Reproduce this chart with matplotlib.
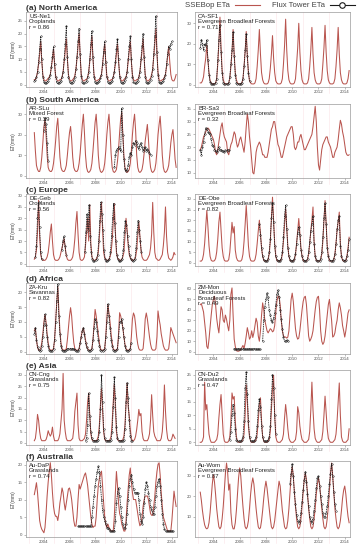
import numpy as np
import matplotlib
matplotlib.use('Agg')
import matplotlib.pyplot as plt
from matplotlib.lines import Line2D

# monthly values; each series starts at the given decimal year
us_ne1_start = 2003.25
us_ne1_red = [2, 2, 3, 5, 8, 12, 17, 9, 4, 2, 1.5, 1.5,
              2, 2.5, 3, 4, 7, 10, 14, 8, 3.5, 2, 1.5, 1.5,
              2, 2, 3, 5, 9, 13, 18, 10, 4, 2, 1.5, 1.5,
              2, 2.5, 3.5, 6, 10, 15, 20, 11, 4, 2, 1.5, 1.5,
              2, 2, 3, 5, 9, 14, 19, 10, 4, 2, 1.5, 1.5,
              2, 2, 3, 4, 8, 12, 16, 9, 3.5, 2, 1.5, 1.5,
              2, 2, 3, 5, 8, 12, 16, 9, 4, 2, 1.5, 1.5,
              2, 2.5, 3, 5, 9, 13, 17, 9, 4, 2, 1.5, 1.5,
              2, 2, 3, 5, 9, 13, 18, 10, 4, 2, 1.5, 1.5,
              2, 2.5, 4, 6, 11, 16, 22, 12, 5, 2, 1.5, 1.5,
              2, 2, 3, 4, 7, 11, 15, 9, 4, 2, 1.5, 1.5,
              2.5, 4]
us_ne1_flux = [(2003.25, [1.5, 2, 3, 5, 9, 14, 19, 10, 3, 1, 0.5, 0.5,
                          1, 1.5, 2.5, 4, 7, 11, 15, 8, 3, 1, 0.5, 0.5,
                          1, 1.5, 3, 5, 10, 16, 23, 11, 3, 1, 0.5, 0.5,
                          1, 2, 3, 6, 11, 17, 22, 12, 3.5, 1, 0.5, 0.5,
                          1, 1.5, 3, 5, 10, 16, 21, 11, 3, 1, 0.5, 0.5,
                          1, 1.5, 2.5, 4, 8, 13, 17, 9, 3, 1, 0.5, 0.5,
                          1, 1.5, 3, 5, 9, 14, 18, 10, 3, 1, 0.5, 0.5,
                          1, 2, 3, 5, 10, 15, 19, 10, 3, 1, 0.5, 0.5,
                          1, 1.5, 3, 5, 10, 15, 20, 11, 3, 1, 0.5, 0.5,
                          1, 2, 3.5, 6, 12, 19, 27, 13, 4, 1, 0.5, 0.5,
                          1, 1.5, 2.5, 4, 8, 12, 15, 14, 16, 17])]

ca_sf1_start = 2003.0
ca_sf1_red = [1, 1, 2, 4, 9, 13, 19.5, 12, 6, 2, 1, 0.5,
              0.5, 0.5, 1, 3, 10, 20, 33, 18, 7, 2.5, 1, 0.5,
              0.5, 0.5, 1, 3, 9, 16, 27, 15, 6, 2.5, 1, 0.5,
              0.5, 0.5, 1, 3, 9, 16, 26, 14, 6, 2, 1, 0.5,
              0.5, 0.5, 1, 3, 9, 17, 27, 15, 6, 2.5, 1, 0.5,
              0.5, 0.5, 1, 3, 8, 15, 24, 13, 6, 2, 1, 0.5,
              0.5, 0.5, 1, 3, 10, 19, 32, 17, 7, 2.5, 1, 0.5,
              0.5, 0.5, 1, 3, 10, 18, 30, 16, 7, 2.5, 1, 0.5,
              0.5, 0.5, 1, 3, 9, 17, 28, 15, 6, 2.5, 1, 0.5,
              0.5, 0.5, 1, 3, 10, 18, 29, 16, 7, 2.5, 1, 0.5,
              0.5, 0.5, 1, 3, 9, 17, 28, 15, 6, 2.5, 1, 0.5,
              0.5, 0.5, 1, 3, 7]
ca_sf1_flux = [(2003.0, [18, 22, 20, 17, 20, 19, 22, 12, 5, 1.5, 0.5, 0.5,
                         0.5, 0.5, 1, 3, 12, 22, 29, 16, 6, 1, 0.5, 0.5,
                         0.5, 0.5, 1, 4, 10, 17, 26, 14, 5, 1, 0.5, 0.5,
                         0.5, 0.5, 1, 3, 9, 17, 25, 14, 6, 2])]

ar_slu_start = 2003.25
ar_slu_red = [21, 12, 5, 3, 2, 2, 4, 9, 16,
              24, 27.5, 20, 10, 4, 2.5, 2, 2, 3, 6, 11, 17,
              24, 28, 19, 9, 4, 2.5, 2, 2, 3, 5, 10, 16,
              21, 24, 18, 9, 4, 2.5, 2, 2, 3, 6, 11, 18,
              25, 30, 21, 10, 4, 2, 1.5, 2, 3, 6, 12, 19,
              26, 30, 22, 10, 4, 2, 1.5, 2, 3, 6, 12, 20,
              26, 30, 22, 11, 4, 2, 1.5, 2, 3, 7, 13, 21,
              28, 31, 21, 10, 4, 2, 1.5, 2, 3, 6, 12, 20,
              26, 30, 22, 10, 4, 2, 1.5, 2, 3, 6, 11, 17,
              21, 25, 18, 9, 4, 2, 1.5, 2, 3, 6, 12, 20,
              25, 29, 21, 10, 4, 2, 1.5, 2, 3, 5, 10, 16,
              20, 22.5, 16, 8, 4]
ar_slu_flux = [(2004.0, [22, 28, 25, 16, 7]),
               (2009.5, [4, 10, 12, 13, 14, 13, 12, 33, 20, 8, 3, 2,
                         2.5, 5, 9, 11, 10, 14, 16, 15, 17, 16, 14, 13,
                         15, 16, 14, 12, 13, 14, 12, 13, 12, 11, 10])]

br_sa3_start = 2003.0
br_sa3_red = [19, 20, 22, 24, 25, 26, 27, 27.5, 27, 26, 25, 24,
              23, 21, 18, 17, 19, 22, 25, 28, 29.5, 26, 24, 23,
              22, 18, 17, 19, 21, 22, 24, 26, 25, 22, 20, 21,
              23, 24, 22, 20, 18, 22, 28, 33, 30, 24, 20, 15,
              10, 9.5, 13, 18, 20, 21, 22, 21, 19, 17, 17, 16,
              16, 16, 18, 21, 24, 27, 28, 30, 30, 27, 24, 21,
              20, 18, 16, 16, 18, 20, 22, 24, 25, 26, 27, 28,
              28, 25, 20, 19, 20, 22, 22, 24, 25, 23, 21, 19,
              19, 20, 21, 22, 23, 24, 25, 28, 32, 36, 30, 20,
              13, 11, 15, 19, 21, 22, 23, 24, 24, 22, 21, 20,
              18, 16, 16, 18, 19, 20, 23, 27, 30.5, 29, 26, 24,
              21, 18, 17, 16.7, 17]
br_sa3_flux = [(2003.0, [19, 17, 20, 22, 25, 27.5, 27, 26, 25.5, 25, 23, 21,
                         20.5, 19, 18.5, 18, 19, 20, 19, 19, 18.5, 18.5, 18, 18.7,
                         18.5, 19, 19])]

de_geb_start = 2003.25
de_geb_red = [2, 3, 6, 14, 28, 12, 4, 2, 1.5,
              1.5, 1.5, 2, 3, 5, 9, 14, 17.5, 10, 4, 2, 1.5,
              1.5, 1.5, 2, 3, 5, 7, 9, 11, 7, 3.5, 2, 1.5,
              1.5, 1.5, 2, 3, 6, 11, 18, 23, 13, 5, 2, 1.5,
              1.5, 2, 3, 8, 14, 20, 10, 26, 9, 3, 2, 1.5,
              1.5, 2, 3, 5, 12, 20, 27, 15, 5, 2.5, 2, 1.5,
              1.5, 2, 3, 5, 10, 18, 26.5, 14, 5, 2.5, 2, 1.5,
              1.5, 2, 3, 5, 12, 20, 15, 8, 4, 2.5, 2, 1.5,
              1.5, 2, 3, 6, 12, 18.5, 12, 6, 3, 2, 1.5, 1.5,
              1.5, 2, 3, 4, 7, 13, 27, 14, 5, 2.5, 2, 1.5,
              1.5, 2, 3, 4, 8, 14, 25, 12, 5, 2.5, 2, 1.5,
              2, 3, 5, 4]
de_geb_flux = [(2003.33, [3, 8, 20, 27, 16, 5, 2]),
               (2005.4, [6, 10, 12, 8, 4]),
               (2007.2, [5, 14, 22, 15, 26, 12, 5, 2, 1, 1, 1.5,
                         2, 4, 10, 19, 27, 22, 15, 6, 2, 1, 1, 1.5,
                         2, 5, 12, 20, 26.5, 18, 10, 4, 2, 1, 1, 1.5,
                         2, 6, 14, 19, 17, 12, 8, 4, 2, 1.5, 1, 1.5,
                         2, 7, 14, 19, 15, 10, 5])]

de_obe_start = 2003.0
de_obe_red = [0.8, 0.8, 1.5, 4, 9, 17, 24.6, 17, 8, 3, 1.2, 0.8,
              0.8, 1, 2, 5, 11, 19, 23.8, 15, 7, 3, 1.2, 0.8,
              0.8, 0.8, 1.5, 5, 12, 19, 14, 17, 6, 2.5, 1.2, 0.8,
              0.8, 0.8, 1.5, 4, 10, 18, 26.9, 18, 8, 3, 1.2, 0.8,
              0.8, 0.8, 1.5, 4, 9, 15, 20, 14, 7, 3, 1.2, 0.8,
              0.8, 0.8, 1.5, 4, 10, 20, 30.8, 20, 9, 3, 1.2, 0.8,
              0.8, 0.8, 1.5, 4, 10, 18, 25.4, 17, 8, 3, 1.2, 0.8,
              0.8, 0.8, 1.5, 4, 9, 15, 20.8, 14, 7, 3, 1.2, 0.8,
              0.8, 0.8, 1.5, 4, 9, 15, 20, 26.2, 10, 3, 1.2, 0.8,
              0.8, 0.8, 1.5, 4, 10, 20, 29.2, 19, 8, 3, 1.2, 0.8,
              0.8, 0.8, 1.5, 4, 9, 15, 19, 23.8, 9, 3, 1.2, 0.8,
              0.8, 1, 3, 7, 12]
de_obe_flux = [(2007.5, [18, 13, 7, 3, 1.5, 1,
                         1, 1, 2, 5, 11, 21, 28, 19, 8, 3, 1.5, 1,
                         1, 1, 2, 5, 12, 22, 27, 16, 7, 3, 1.5, 1,
                         1, 1, 2, 4, 9, 14, 17, 13, 6, 3, 1.5, 1,
                         1, 1, 2, 5, 10, 15, 18, 22, 9, 3, 1.5, 1,
                         1, 1, 2, 5, 12, 21, 28, 18, 7, 3, 1.5, 1,
                         1, 1, 2, 4, 9, 16, 20, 22, 8, 3, 1.5, 1,
                         1, 1.5, 3, 6, 11])]

za_kru_start = 2003.25
za_kru_red = [7, 8, 4, 1.5, 0.5, 0.5, 1, 3, 6,
              10, 12.5, 10, 6, 3, 1, 0.5, 0.5, 0.5, 1, 4, 10,
              16, 22, 14, 7, 3, 1, 0.5, 0.5, 0.5, 1, 4, 8,
              12, 14.8, 12, 7, 3, 1, 0.5, 0.5, 0.5, 1, 3, 5,
              7, 8, 6, 4, 2, 1, 0.5, 0.5, 0.5, 1, 4, 9,
              14.2, 12, 9, 6, 3, 1, 0.5, 0.5, 0.5, 1, 5, 11,
              15.9, 13, 10, 6, 3, 1, 0.5, 0.5, 0.5, 1, 6, 13.1,
              12, 10, 8, 5, 2.5, 1, 0.5, 0.5, 0.5, 1, 5, 11,
              13, 12, 9, 5, 2.5, 1, 0.5, 0.5, 0.5, 1, 5, 11,
              13, 11, 8, 5, 2.5, 1, 0.5, 0.5, 0.5, 1, 5, 13.7,
              11, 9, 6, 4, 2, 1, 0.5, 0.5, 0.5, 1, 4, 8.1,
              7, 6, 5, 4, 3]
za_kru_flux = [(2003.25, [6, 8, 4, 1.5, 0.5, 0.3, 0.5, 2, 5,
                          9, 12.5, 9, 5, 2, 0.5, 0.3, 0.3, 0.3, 1, 4, 10,
                          17, 22.6, 12, 6, 2, 0.5, 0.3, 0.3, 0.3, 0.5, 1, 1,
                          1, 1, 1, 1, 1, 0.5, 0.3, 0.3, 0.3, 1, 3, 5,
                          7, 8, 6, 3, 1.5, 0.5, 0.3, 0.3, 0.5, 1, 4, 8,
                          11, 10, 7, 4, 2, 0.5, 0.3, 0.3, 0.5, 1, 5, 10,
                          16, 12, 8, 4, 2, 0.5, 0.3, 0.3, 0.5, 1, 5, 10,
                          10, 11, 8, 5, 2, 0.5, 0.3, 0.3, 0.5, 1, 3])]

zm_mon_start = 2003.0
zm_mon_red = [45, 46, 42, 38, 28, 18, 5, 3, 12, 24, 35, 45,
              50, 53, 45, 32, 24, 18, 30, 43, 40, 30, 28, 35,
              31, 25, 20, 30, 55, 61, 35, 12, 5, 1, 0.5, 0.5,
              1, 2, 4, 6, 3, 8, 15, 23, 18, 12, 14, 20,
              13.6, 18, 25, 32, 28, 15, 10, 20, 35, 46.7, 40, 30,
              25, 20, 18, 20, 22, 21, 19, 20, 25, 38, 48, 53,
              53, 45, 30, 20, 15, 14, 14, 13, 14, 20, 35, 50,
              56, 48, 35, 22, 15, 12, 13, 20, 30, 40, 48, 52,
              53, 45, 30, 15, 10, 12, 15, 20, 30, 40, 48, 52,
              53, 40, 20, 10, 7, 9, 15, 25, 35, 45, 50, 40,
              30, 14, 15, 18, 25, 30, 40, 46.7, 42, 35, 25, 20,
              14, 20, 28, 37, 40]
zm_mon_flux = [(2005.55, [3, 2.5, 2.5, 2.5, 3, 2.5, 2.5, 2.5, 2.5, 3, 2.5, 2.5,
                          2.5, 2.5, 3, 2.5, 2.5, 2.5, 2.5, 3, 2.5, 2.5, 2.5, 2.5, 2.5]),
               (2007.75, [10, 30, 43, 50, 56, 52, 40, 35, 30, 28, 32, 37,
                          45, 55, 59, 52, 40, 31, 22, 14, 10, 10.4, 11, 10])]

cn_cng_start = 2003.25
cn_cng_red = [1, 2, 6, 12.6, 10, 5, 2, 1, 1,
              1, 1, 1.5, 3, 5.4, 4, 3, 4, 7, 3, 1, 1,
              1, 1, 2, 4, 9.6, 15, 30.7, 10, 5, 2, 1, 1,
              1, 1, 1.5, 2, 6, 14, 18, 22, 8, 2, 1, 1,
              1, 1.5, 2, 3.9, 10, 18, 22, 12, 4, 1.5, 1, 1,
              1, 1, 1.5, 3, 8, 17, 24, 14, 5, 1.5, 1, 1,
              1, 1, 1.5, 3, 9, 18, 26, 15, 5, 1.5, 1, 1,
              1, 1, 1.5, 3, 8, 17, 26.4, 16, 12, 6, 2, 1,
              1, 1.5, 3, 6, 10, 14.8, 12, 13, 5, 2, 1, 1,
              1, 1, 2, 4, 10, 21.3, 12, 5, 3, 2, 1, 1,
              1, 1, 2, 5, 12, 25.6, 14, 6, 2, 1, 1, 1,
              2, 3.9, 3, 2]
cn_cng_flux = [(2007.25, [1, 2, 8, 22, 12, 5, 2, 1, 1,
                          1, 1, 1, 1.5, 5, 15, 30, 18, 6, 2, 1, 1,
                          1, 1, 1, 1.5, 5, 16, 29, 20, 7, 2, 1, 1,
                          1, 1, 1, 1.5, 6, 18, 26.5, 20, 10, 3, 1, 1])]

cn_du2_start = 2003.0
cn_du2_red = [0, 0, 0.5, 2, 22.3, 12, 14, 8, 3, 1, 0, 0,
              0, 0, 0.5, 1, 3, 9, 14, 17.7, 10, 3, 0.5, 0,
              0, 0, 0.5, 2, 8, 18.3, 16, 17, 8, 2, 0.5, 0,
              0, 0, 0.5, 1, 3, 10, 21.3, 15, 6, 2, 0.5, 0,
              0, 0, 0.5, 1, 3, 8, 14, 16.5, 8, 2, 0.5, 0,
              0, 0, 0.5, 1, 4, 12, 20, 24.9, 10, 2, 0.5, 0,
              0, 0, 0.5, 1, 3, 9, 14, 10, 5, 1.5, 0.5, 0,
              0, 0, 0.5, 1, 4, 13.2, 11, 6, 3, 1, 0.5, 0,
              0, 0, 0.5, 1, 4, 12, 22.3, 12, 5, 1.5, 0.5, 0,
              0, 0, 0.5, 1, 4, 10, 17.1, 11, 5, 1.5, 0.5, 0,
              0, 0, 0.5, 1, 3, 8, 15, 22, 10, 2, 0.5, 0,
              0, 0, 0.5, 1, 5]
cn_du2_flux = [(2005.25, [1, 4, 10, 14, 11, 5, 1, 0.5, 0.5,
                          0.5, 0.5, 1, 2, 8, 20, 26, 18, 8, 2, 0.5, 0.5,
                          0.5, 0.5, 1, 2, 6, 12, 16, 13, 6, 2, 0.5, 0.5,
                          0.5, 0.5, 1, 2, 6, 16, 25, 20, 10, 3])]

au_dap_start = 2003.25
au_dap_red = [11.4, 13, 14.8, 12, 8, 4, 2.4, 1.5, 1,
              0.5, 2, 6, 11, 15, 18, 20.5, 17, 12, 8, 6, 5.2,
              5.2, 4, 6, 9, 11, 13.3, 12, 9, 7, 9, 11, 13,
              13.3, 12, 10, 7, 4, 2.4, 2.4, 5, 10, 14.3, 13, 14,
              15, 16, 17, 17.6, 16, 14, 11, 8, 5, 3, 2, 2.4,
              2.4, 5, 10, 14, 16, 17, 18.1, 14, 9, 5, 3, 2,
              3, 2, 1.5, 1, 1, 1, 5, 12, 18, 14, 9, 6,
              5, 3, 2, 1, 1, 4, 9, 13, 17, 19, 15, 12,
              10, 10, 10, 8, 6, 4, 2.5, 3, 5, 8, 10, 11,
              11, 11, 10, 8, 6, 5.5, 5.5, 8, 11, 15, 18, 20,
              20.5, 17, 12, 8, 5, 4, 3, 2, 1, 1, 1, 1,
              4, 8, 12.4, 10, 8]
au_dap_flux = [(2006.67, [2.4, 2.4, 2.4, 2.4, 2.4, 2.4, 2.4, 2.4, 2.4, 2.4, 2.4, 2.4, 2.4,
                          5, 8, 11, 14, 16, 18, 19.5, 18, 14, 10, 7, 5, 4, 3, 2,
                          2, 1.5, 1, 1, 1, 1, 1, 4, 9, 12, 13.3, 11, 8, 5, 3, 2, 2,
                          3, 6, 10, 14, 16, 17.1, 15, 13, 12, 12, 12, 12, 10, 6, 4, 3,
                          5, 9, 13, 15, 14, 12, 10, 8, 7, 6, 6, 8, 11, 14, 15,
                          16, 14, 10, 6, 3, 1.5, 1, 1, 1, 1, 1, 1, 1, 1])]

au_wom_start = 2003.0
au_wom_red = [22, 18, 13, 9, 6, 4.5, 4, 4.5, 7, 12, 19, 26,
              30.6, 27, 21, 14, 9, 5, 4, 5, 9, 15, 23, 31,
              36.3, 32, 23, 26, 12, 6, 4, 4, 7, 13, 21, 29,
              33.9, 30, 22, 15, 9, 5, 4, 5, 8, 14, 21, 26,
              29, 26, 20, 14, 9, 5, 4, 4.5, 8, 13, 19, 24,
              27.4, 24, 19, 14, 9, 5, 4, 5, 8, 13, 18, 23,
              27.4, 25, 19, 13, 9, 5, 4, 4.5, 8, 14, 22, 30,
              34.5, 30, 22, 15, 9, 5, 4, 5, 9, 15, 22, 28,
              31.5, 28, 21, 14, 9, 5, 4, 5, 9, 14, 21, 26,
              29, 26, 20, 14, 9, 5, 4, 5, 9, 15, 23, 31,
              36.3, 30, 22, 14, 9, 5, 4, 5, 8, 13, 19, 23,
              25, 21, 15, 10, 7]
au_wom_flux = [(2009.83, [26, 31, 36, 30, 22, 16, 11, 8, 7, 8, 12, 17,
                          23, 28, 32, 27, 21, 15, 10, 8, 7, 9, 13, 18,
                          24, 29, 30, 25, 20, 16, 12, 10, 10, 12, 15, 20,
                          26, 31, 36, 30, 22, 16, 13])]

region_titles = ['(a) North America', '(b) South America', '(c) Europe',
                 '(d) Africa', '(e) Asia', '(f) Australia']
site_labels = ['US-Ne1\nCroplands\nr = 0.86',
               'CA-SF1\nEvergreen Broadleaf Forests\nr = 0.71',
               'AR-SLu\nMixed Forest\nr = 0.39',
               'BR-Sa3\nEvergreen Broadleaf Forests\nr = 0.32',
               'DE-Geb\nCroplands\nr = 0.56',
               'DE-Obe\nEvergreen Broadleaf Forests\nr = 0.82',
               'ZA-Kru\nSavannas\nr = 0.82',
               'ZM-Mon\nDeciduous\nBroadleaf Forests\nr = 0.49',
               'CN-Cng\nGrasslands\nr = 0.75',
               'CN-Du2\nGrasslands\nr = 0.47',
               'Au-DaP\nGrasslands\nr = 0.74',
               'Au-Wom\nEvergreen Broadleaf Forests\nr = 0.87']
y_ticks = [[0, 5, 10, 15, 20, 25], [0, 10, 20, 30],
           [0, 10, 20, 30], [10, 15, 20, 25, 30, 35],
           [0, 5, 10, 15, 20, 25, 30], [0, 5, 10, 15, 20, 25, 30],
           [0, 5, 10, 15, 20], [0, 10, 20, 30, 40, 50, 60],
           [0, 5, 10, 15, 20, 25, 30], [0, 5, 10, 15, 20, 25],
           [0, 5, 10, 15, 20], [10, 20, 30]]
y_limits = [(-0.9, 28.5), (-1, 35.5), (-1.2, 35), (7.9, 36.9),
            (-1, 30.7), (-1.5, 32.3), (-0.8, 23.1), (-2.2, 65.7),
            (-0.9, 32.2), (-1, 26.8), (-0.7, 21), (0, 37.3)]
x_ticks = [2004, 2006, 2008, 2010, 2012, 2014]

panels = [(us_ne1_start, us_ne1_red, us_ne1_flux),
          (ca_sf1_start, ca_sf1_red, ca_sf1_flux),
          (ar_slu_start, ar_slu_red, ar_slu_flux),
          (br_sa3_start, br_sa3_red, br_sa3_flux),
          (de_geb_start, de_geb_red, de_geb_flux),
          (de_obe_start, de_obe_red, de_obe_flux),
          (za_kru_start, za_kru_red, za_kru_flux),
          (zm_mon_start, zm_mon_red, zm_mon_flux),
          (cn_cng_start, cn_cng_red, cn_cng_flux),
          (cn_du2_start, cn_du2_red, cn_du2_flux),
          (au_dap_start, au_dap_red, au_dap_flux),
          (au_wom_start, au_wom_red, au_wom_flux)]

plt.rcParams['font.family'] = ['Liberation Sans Narrow', 'Liberation Sans', 'DejaVu Sans']

RED = '#b9554f'
W, H = 361, 550
fig = plt.figure(figsize=(W / 100, H / 100), dpi=100)

col_left = [26, 195]
col_width = [151, 155]
row_top = [12, 104, 194, 283, 370, 461]
row_height = [75, 74, 72, 71, 75, 76]

for k, (start, red, flux) in enumerate(panels):
    row, col = divmod(k, 2)
    ax = fig.add_axes([col_left[col] / W, 1 - (row_top[row] + row_height[row]) / H,
                       col_width[col] / W, row_height[row] / H])
    # faint pink year guides
    for yr in range(2003, 2015, 2):
        ax.axvline(yr - 0.2, ymin=-0.08, ymax=1, color='#fbe3e7', lw=0.4, clip_on=False, zorder=0)
    t = start + np.arange(len(red)) / 12
    ax.plot(t, red, color=RED, lw=0.75, zorder=2)
    for seg_start, seg in flux:
        ts = seg_start + np.arange(len(seg)) / 12
        ax.plot(ts, seg, color='#1a1a1a', lw=0.55, ls=(0, (2, 1)), marker='o', ms=1.1,
                mfc='none', mew=0.35, zorder=3)
    ax.set_xlim(2002.6, 2014.4)
    ax.set_ylim(*y_limits[k])
    ax.set_xticks(x_ticks)
    ax.set_yticks(y_ticks[k])
    ax.tick_params(length=1.5, width=0.4, color='#888888', labelsize=3.2,
                   labelcolor='#555555', pad=1)
    for sp in ax.spines.values():
        sp.set_color('#9a9a9a')
        sp.set_linewidth(0.5)
    ax.text(0.02, 0.97, site_labels[k], transform=ax.transAxes, ha='left', va='top',
            fontsize=4.3, color='#222222', linespacing=1.05)
    if col == 0:
        ax.set_title(region_titles[row], loc='left', fontsize=6.0, fontweight='bold',
                     color='#333333', pad=1.5)
        ax.set_ylabel('ET(mm)', fontsize=3.6, color='#444444', labelpad=1.5)

handles = [Line2D([], [], color=RED, lw=0.8),
           Line2D([], [], color='#1a1a1a', lw=0.8, marker='o', ms=4, mfc='white', mew=0.8)]
fig.legend(handles, ['SSEBop ETa', 'Flux Tower ETa'], loc='upper right',
           bbox_to_anchor=(0.995, 1.005), ncol=2, frameon=False, fontsize=5.6,
           markerfirst=False, handlelength=3.2, columnspacing=1.6, handletextpad=0.6,
           labelcolor='#444444', borderaxespad=0.2)

fig.savefig('out.png', dpi=100)
